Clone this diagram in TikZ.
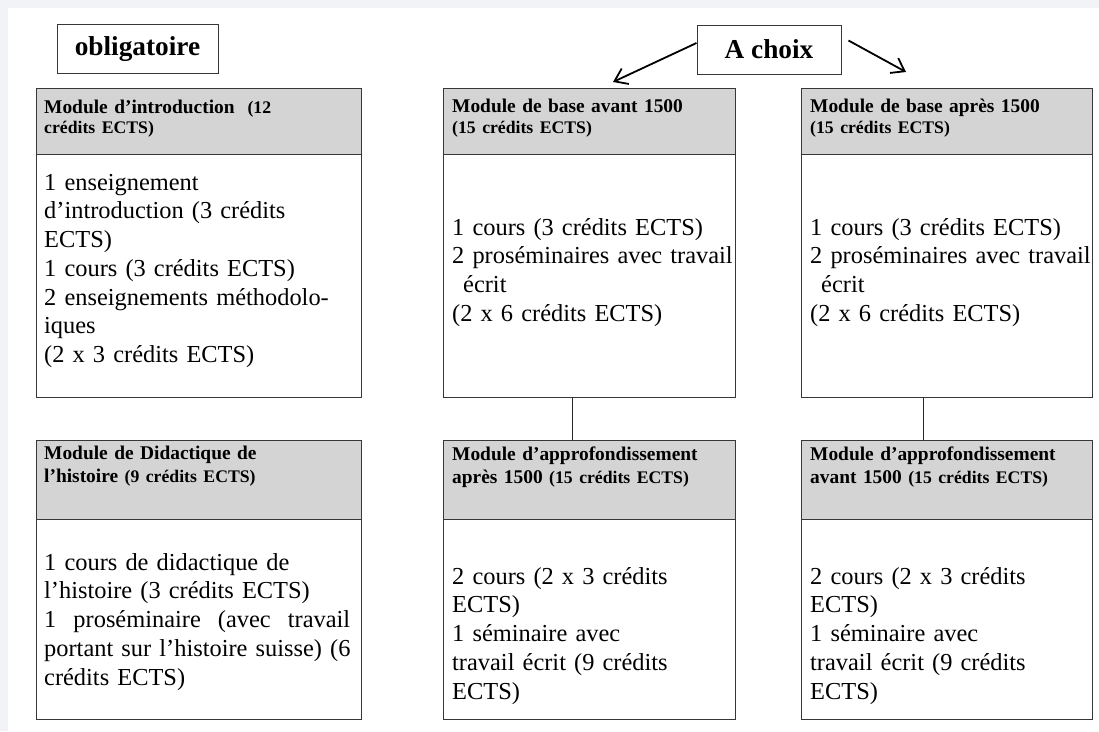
\documentclass[tikz,border=0pt]{standalone}
\usepackage{fontspec}
\setmainfont{Liberation Serif}
\usetikzlibrary{arrows.meta}

\definecolor{headgray}{RGB}{212,212,212}
\definecolor{pagegray}{RGB}{242,243,247}
\definecolor{rulegray}{RGB}{55,55,55}

\newcommand{\bodyfont}{\fontsize{24.4}{28.75}\selectfont}
\newcommand{\headfont}{\bfseries\fontsize{19.4}{23}\selectfont}
\newcommand{\smallhead}{\fontsize{17.7}{21}\selectfont}
\newcommand{\titlefont}{\bfseries\fontsize{27.3}{31}\selectfont}

\begin{document}
\begin{tikzpicture}[x=1pt,y=-1pt]
\useasboundingbox (0,0) rectangle (1099,731);
\fill[white] (0,0) rectangle (1099,731);
\fill[pagegray] (0,0) rectangle (1099,8);
\fill[pagegray] (0,0) rectangle (8,731);


\tikzset{BoxHead/.style 2 args = {draw=rulegray, line width=1pt, fill=headgray,
 anchor=north west, inner sep=0pt, minimum width=#1, minimum height=#2},
 BoxBody/.style 2 args = {draw=rulegray, line width=1pt, fill=white,
 anchor=north west, inner sep=0pt, minimum width=#1, minimum height=#2} }

\node[BoxHead={325pt}{66pt}] (IntroHead) at (36,88) {};
\node[BoxBody={325pt}{243pt}] (IntroBody) at (36,154) {};
\node[BoxHead={292pt}{66pt}] (BaseAvantHead) at (443,88) {};
\node[BoxBody={292pt}{243pt}] (BaseAvantBody) at (443,154) {};
\node[BoxHead={291pt}{66pt}] (BaseApresHead) at (801,88) {};
\node[BoxBody={291pt}{243pt}] (BaseApresBody) at (801,154) {};

\node[BoxHead={325pt}{79pt}] (DidaHead) at (36,440) {};
\node[BoxBody={325pt}{200pt}] (DidaBody) at (36,519) {};
\node[BoxHead={292pt}{79pt}] (ApproApresHead) at (443,440) {};
\node[BoxBody={292pt}{200pt}] (ApproApresBody) at (443,519) {};
\node[BoxHead={291pt}{79pt}] (ApproAvantHead) at (801,440) {};
\node[BoxBody={291pt}{200pt}] (ApproAvantBody) at (801,519) {};


\tikzset{HeadText/.style = {anchor=base west, inner sep=0pt, text width=330pt,
 align=left, font=\headfont},
 BodyText/.style = {anchor=base west, inner sep=0pt, text width=330pt,
 align=left, font=\bodyfont} }

\node[HeadText] (IntroTitle) at (44,113)
 {Module d’introduction\ \ {\smallhead(12}\\[-2.5pt]{\smallhead crédits ECTS)}};
\node[HeadText] (BaseAvantTitle) at (452,112)
 {Module de base avant 1500\\[-2pt]{\smallhead(15 crédits ECTS)}};
\node[HeadText] (BaseApresTitle) at (810,112)
 {Module de base après 1500\\[-2pt]{\smallhead(15 crédits ECTS)}};
\node[HeadText] (DidaTitle) at (44,459)
 {Module de Didactique de\\l’histoire {\smallhead(9 crédits ECTS)}};
\node[HeadText] (ApproApresTitle) at (452,460)
 {Module d’approfondissement\\après 1500 {\smallhead(15 crédits ECTS)}};
\node[HeadText] (ApproAvantTitle) at (810,460)
 {Module d’approfondissement\\avant 1500 {\smallhead(15 crédits ECTS)}};

\node[BodyText] (IntroText) at (44,190)
 {1 enseignement\\d’introduction (3 crédits\\ECTS)\\1 cours (3 crédits ECTS)\\
  2 enseignements méthodolo-\\iques\\(2 x 3 crédits ECTS)};
\node[BodyText] (BaseAvantText) at (452,235)
 {1 cours (3 crédits ECTS)\\2 proséminaires avec travail\\\hspace*{11pt}écrit\\
  (2 x 6 crédits ECTS)};
\node[BodyText] (BaseApresText) at (810,235)
 {1 cours (3 crédits ECTS)\\2 proséminaires avec travail\\\hspace*{11pt}écrit\\
  (2 x 6 crédits ECTS)};
\node[BodyText] (DidaText) at (44,570)
 {1 cours de didactique de\\l’histoire (3 crédits ECTS)\\
  \makebox[306pt][l]{1\hfill proséminaire\hfill (avec\hfill travail}\\
  portant sur l’histoire suisse) (6\\crédits ECTS)};
\node[BodyText] (ApproApresText) at (452,584)
 {2 cours (2 x 3 crédits\\ECTS)\\1 séminaire avec\\travail écrit (9 crédits\\ECTS)};
\node[BodyText] (ApproAvantText) at (810,584)
 {2 cours (2 x 3 crédits\\ECTS)\\1 séminaire avec\\travail écrit (9 crédits\\ECTS)};


\tikzset{TitleStyle/.style = {draw=rulegray, line width=1pt, fill=white,
 minimum height=49pt, inner sep=0pt, font=\titlefont},
 LinkStyle/.style = {draw=black!85, line width=1.3pt},
 ChoiceArrow/.style = {draw=black, line width=1.8pt,
 -{Straight Barb[length=12pt,width=17pt]}} }

\node[TitleStyle, minimum width=161pt] (Oblig) at (137.5,49) {obligatoire};
\node[TitleStyle, minimum width=144pt] (Choix) at (769,49.5) {A choix};

\coordinate (ChoixTipL) at (613,82);
\coordinate (ChoixTipR) at (906,72);

\draw[ChoiceArrow] ([yshift=6.5pt]Choix.west) -- (ChoixTipL);
\draw[ChoiceArrow] ([xshift=7pt,yshift=9pt]Choix.east) -- (ChoixTipR);

\draw[LinkStyle] ([xshift=-17pt]BaseAvantBody.south) -- ([xshift=-17pt]ApproApresHead.north);
\draw[LinkStyle] ([xshift=-23.5pt]BaseApresBody.south) -- ([xshift=-23.5pt]ApproAvantHead.north);

\end{tikzpicture}
\end{document}
